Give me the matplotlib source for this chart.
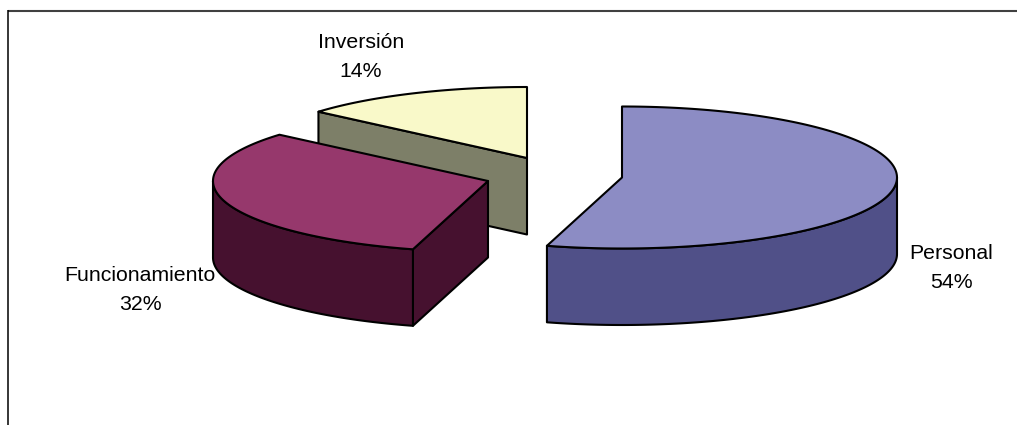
import numpy as np
import matplotlib
matplotlib.use("Agg")
import matplotlib.pyplot as plt

# Data
categories = ["Personal", "Funcionamiento", "Inversión"]
values = [54.4, 31.9, 13.7]

# Styling / layout
top_colors = ["#8C8CC4", "#96386C", "#F9F9C9"]
wall_colors = ["#505088", "#46112F", "#7D7F68"]
apexes = [(622, 177.5), (488, 181), (527, 158)]   # exploded slice apex, pixels
label_pos = [(951, 268), (140, 290), (361, 57)]
RX, RY, DEPTH = 275, 71, 76.5
LW = 1.5

plt.rcParams["font.family"] = ["Liberation Sans", "DejaVu Sans"]
fig = plt.figure(figsize=(10.17, 4.25), dpi=100)
ax = fig.add_axes([0, 0, 1, 1])
ax.set_xlim(0, 1017)
ax.set_ylim(425, 0)
ax.axis("off")

# Chart frame (only top and left edges are visible in the crop)
ax.plot([8, 1017], [10.5, 10.5], color="#404040", lw=1.5, solid_capstyle="butt")
ax.plot([8, 8], [10, 425], color="#000000", lw=1.1, solid_capstyle="butt")

vals = np.array(values, dtype=float)
edges = np.concatenate([[0], np.cumsum(vals) / vals.sum() * 360.0])


def arc(apex, a0, a1, n=160):
    t = np.radians(np.linspace(a0, a1, n))
    return apex[0] + RX * np.sin(t), apex[1] - RY * np.cos(t)


def poly(x, y, color, z):
    ax.fill(x, y, facecolor=color, edgecolor="black", lw=LW, joinstyle="round", zorder=z)


# back to front: Inversión, Funcionamiento, Personal
for z, i in enumerate([2, 1, 0]):
    a0, a1 = edges[i], edges[i + 1]
    apex = apexes[i]
    base = 3 * z + 2
    # cut face on the start side (visible when it faces the viewer's right/front)
    if 180 < a0 < 360:
        sx, sy = arc(apex, a0, a0, 1)
        poly([apex[0], sx[0], sx[0], apex[0]],
             [apex[1], sy[0], sy[0] + DEPTH, apex[1] + DEPTH], wall_colors[i], base)
    # outer rim, front half only
    lo, hi = max(a0, 90), min(a1, 270)
    if lo < hi:
        rx, ry = arc(apex, lo, hi)
        poly(np.r_[rx, rx[::-1]], np.r_[ry, ry[::-1] + DEPTH], wall_colors[i], base + 1)
    # top face
    tx, ty = arc(apex, a0, a1)
    poly(np.r_[apex[0], tx], np.r_[apex[1], ty], top_colors[i], base + 2)

for name, v, (x, y) in zip(categories, vals, label_pos):
    ax.text(x, y, f"{name}\n{v / vals.sum() * 100:.0f}%", ha="center", va="center",
            fontsize=15.3, linespacing=1.62, color="black", zorder=30)

fig.savefig("out.png", dpi=100)
